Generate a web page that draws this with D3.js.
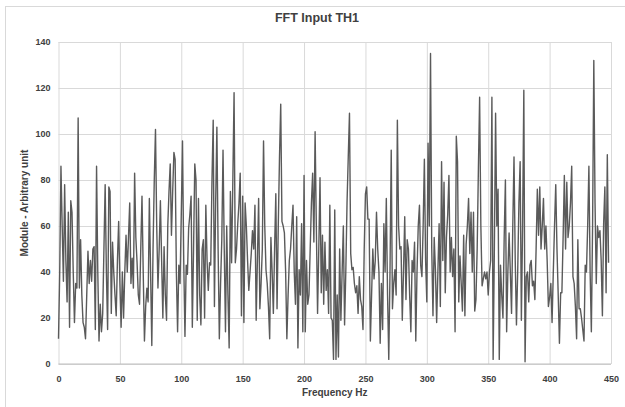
<!DOCTYPE html>
<html>
<head>
<meta charset="utf-8">
<script src="https://cdn.jsdelivr.net/npm/d3@7/dist/d3.min.js"></script>
<style>
  body { margin: 0; background: #fff; }
  svg { display: block; font-family: 'Liberation Sans', Arial, sans-serif; }
  .axis text { font-size: 9px; font-weight: bold; fill: #404040; }
  .grid line { stroke: #d9d9d9; stroke-width: 1; }
  .grid .domain { display: none; }
</style>
</head>
<body>
<div id="chart"></div>
<script>
// Module value per 1 Hz bin (index = Hz)
const moduleValues = [
  11, 40, 86, 60, 36, 78, 45, 27, 66, 16, 71, 66, 40, 18, 35, 33, 107, 33, 54, 30,
  18, 16, 11, 30, 49, 35, 45, 36, 50, 51, 15, 86, 40, 10, 26, 14, 22, 50, 78, 40,
  15, 77, 75, 22, 53, 40, 30, 21, 45, 62, 35, 16, 40, 20, 40, 56, 40, 55, 70, 35,
  46, 33, 83, 55, 44, 30, 26, 50, 73, 40, 10, 25, 33, 27, 72, 40, 8, 50, 80, 102,
  60, 33, 50, 71, 45, 20, 51, 30, 19, 60, 75, 87, 56, 75, 92, 89, 40, 14, 43, 35,
  65, 97, 45, 12, 43, 39, 59, 65, 73, 16, 50, 87, 80, 19, 72, 30, 17, 50, 54, 20,
  69, 45, 32, 44, 43, 80, 106, 25, 70, 103, 50, 11, 35, 54, 93, 50, 14, 60, 30, 7,
  75, 44, 80, 118, 44, 50, 61, 70, 83, 21, 73, 18, 70, 60, 45, 32, 40, 48, 58, 50,
  69, 19, 45, 72, 24, 35, 50, 97, 60, 41, 35, 25, 11, 55, 40, 22, 50, 74, 24, 60,
  90, 113, 62, 60, 57, 40, 11, 30, 45, 50, 60, 69, 40, 26, 64, 7, 41, 30, 61, 14,
  82, 14, 45, 26, 30, 50, 70, 83, 53, 101, 60, 22, 50, 81, 31, 56, 26, 53, 32, 41,
  22, 69, 20, 19, 2, 67, 2, 30, 3, 50, 19, 40, 60, 17, 40, 70, 90, 109, 48, 41,
  42, 35, 31, 34, 22, 38, 28, 25, 15, 50, 74, 77, 63, 63, 10, 30, 50, 37, 45, 66,
  50, 40, 9, 35, 15, 61, 40, 72, 30, 2, 40, 93, 24, 35, 41, 30, 106, 60, 50, 51,
  19, 40, 64, 28, 54, 50, 30, 14, 45, 40, 53, 10, 40, 60, 69, 43, 38, 60, 89, 45,
  27, 96, 60, 135, 50, 21, 55, 41, 18, 40, 61, 25, 88, 45, 79, 31, 55, 65, 82, 40,
  55, 38, 50, 14, 99, 88, 27, 47, 35, 23, 56, 21, 52, 60, 72, 48, 66, 40, 66, 23,
  28, 50, 85, 116, 60, 34, 37, 40, 37, 40, 30, 40, 45, 116, 2, 50, 109, 60, 76, 2,
  43, 30, 20, 55, 80, 14, 40, 57, 40, 22, 60, 90, 45, 17, 40, 70, 88, 19, 60, 119,
  1, 38, 40, 27, 43, 45, 34, 36, 28, 50, 76, 56, 77, 50, 60, 72, 50, 60, 45, 25,
  29, 35, 18, 40, 60, 78, 50, 30, 9, 31, 31, 55, 82, 50, 79, 55, 60, 70, 86, 38,
  35, 25, 11, 54, 24, 24, 20, 15, 10, 43, 40, 60, 86, 40, 14, 60, 132, 70, 35, 60,
  55, 58, 45, 21, 61, 77, 31, 91, 44
]

const xTicks = [0, 50, 100, 150, 200, 250, 300, 350, 400, 450]
const yTicks = [0, 20, 40, 60, 80, 100, 120, 140]

const chartTitle = 'FFT Input TH1'
const xTitle = 'Frequency Hz'
const yTitle = 'Module - Arbitrary unit'

const width = 625
const height = 407
const margin = { top: 42, left: 58.5, right: 14, bottom: 43 }

const svg = d3
  .select('#chart')
  .append('svg')
  .attr('width', width)
  .attr('height', height)

// chart frame
svg
  .append('rect')
  .attr('x', 5.5)
  .attr('y', 6.5)
  .attr('width', 700)
  .attr('height', 500)
  .attr('fill', 'none')
  .attr('stroke', '#d9d9d9')

const xPositionScale = d3
  .scaleLinear()
  .domain([0, 450])
  .range([margin.left, width - margin.right])

const yPositionScale = d3
  .scaleLinear()
  .domain([0, 140])
  .range([height - margin.bottom, margin.top])

// grid lines
svg
  .append('g')
  .attr('class', 'grid')
  .attr('transform', 'translate(0,' + margin.top + ')')
  .call(
    d3.axisBottom(xPositionScale)
      .tickValues(xTicks)
      .tickSize(yPositionScale(0) - margin.top)
      .tickFormat('')
  )

svg
  .append('g')
  .attr('class', 'grid')
  .attr('transform', 'translate(' + margin.left + ',0)')
  .call(
    d3.axisRight(yPositionScale)
      .tickValues(yTicks)
      .tickSize(xPositionScale(450) - margin.left)
      .tickFormat('')
  )

// bottom axis line
svg
  .append('line')
  .attr('x1', xPositionScale(0))
  .attr('x2', xPositionScale(450))
  .attr('y1', yPositionScale(0))
  .attr('y2', yPositionScale(0))
  .attr('stroke', '#bfbfbf')

const line = d3
  .line()
  .x((d, i) => xPositionScale(i))
  .y(d => yPositionScale(d))

svg
  .append('path')
  .datum(moduleValues)
  .attr('d', line)
  .attr('fill', 'none')
  .attr('stroke', '#5a5a5a')
  .attr('stroke-width', 1.4)
  .attr('stroke-linejoin', 'round')

// axes labels
const xAxis = d3.axisBottom(xPositionScale).tickValues(xTicks).tickSize(0).tickPadding(12)
svg
  .append('g')
  .attr('class', 'axis x-axis')
  .attr('transform', 'translate(0,' + yPositionScale(0) + ')')
  .call(xAxis)
  .call(g => g.select('.domain').remove())

const yAxis = d3.axisLeft(yPositionScale).tickValues(yTicks).tickSize(0).tickPadding(8)
svg
  .append('g')
  .attr('class', 'axis y-axis')
  .attr('transform', 'translate(' + margin.left + ',0)')
  .call(yAxis)
  .call(g => g.select('.domain').remove())

svg
  .append('text')
  .attr('x', 317)
  .attr('y', 22)
  .attr('text-anchor', 'middle')
  .attr('font-size', 12.5)
  .attr('font-weight', 'bold')
  .attr('fill', '#404040')
  .text(chartTitle)

svg
  .append('text')
  .attr('x', (xPositionScale(0) + xPositionScale(450)) / 2)
  .attr('y', 396)
  .attr('text-anchor', 'middle')
  .attr('font-size', 10)
  .attr('font-weight', 'bold')
  .attr('fill', '#404040')
  .text(xTitle)

svg
  .append('text')
  .attr('transform', 'translate(28,' + (yPositionScale(0) + yPositionScale(140)) / 2 + ') rotate(-90)')
  .attr('text-anchor', 'middle')
  .attr('font-size', 10)
  .attr('font-weight', 'bold')
  .attr('fill', '#404040')
  .text(yTitle)
</script>
</body>
</html>
